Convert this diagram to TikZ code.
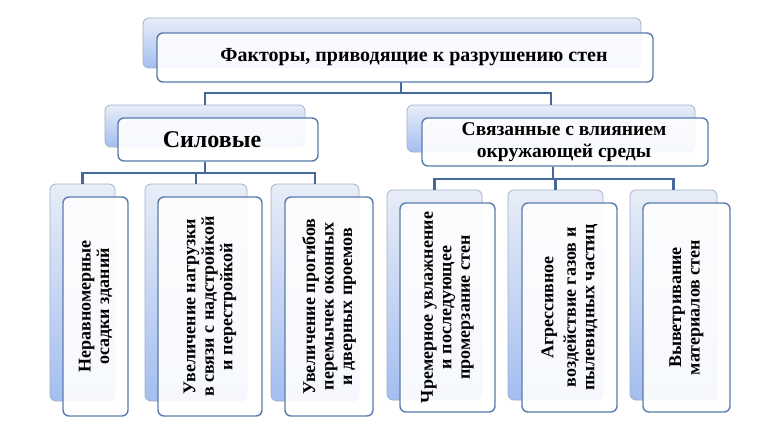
\documentclass[tikz,border=0pt]{standalone}
\usepackage{fontspec}
\setmainfont{Liberation Serif}
\usetikzlibrary{calc}
\definecolor{conncol}{HTML}{46699C}
\definecolor{frontcol}{HTML}{5A7CAE}
\definecolor{backedge}{HTML}{A3B1C8}
\definecolor{backtop}{HTML}{E8EDF7}
\definecolor{backbot}{HTML}{A4BEF0}
\begin{document}
\begin{tikzpicture}[x=1pt,y=-1pt,
  backbox/.style={draw=backedge, line width=0.8pt, rounded corners=6pt, top color=backtop, bottom color=backbot, inner sep=0pt},
  frontbox/.style={draw=frontcol, line width=1.4pt, rounded corners=6pt, fill=white, fill opacity=0.9, inner sep=0pt},
  conn/.style={draw=conncol, line width=2.4pt},
  lbl/.style={font=\bfseries, align=center, text=black, inner sep=0pt},
  vlbl/.style={lbl, rotate=90, font=\bfseries\fontsize{18}{18.5}\selectfont}
]
\useasboundingbox (0,0) rectangle (768,428);
\fill[white] (0,0) rectangle (768,428);

% connectors
\coordinate (tj) at (401,93);
\draw[conn] (401,82) -- (tj);
\coordinate (sj) at (205,173);
\coordinate (ej) at (553,179);

% top
\node[backbox, minimum width=498pt, minimum height=50pt] (tb) at (392,43) {};
\node[frontbox, minimum width=496pt, minimum height=49pt] (tf) at (405,57.5) {};
\node[lbl, font=\bfseries\fontsize{20}{23}\selectfont] (tt) at (414,57) {Факторы, приводящие к разрушению стен};

% level 2
\node[backbox, minimum width=200pt, minimum height=42pt] (sb) at (205,126) {};
\node[backbox, minimum width=288pt, minimum height=47pt] (eb) at (551,128.5) {};
\draw[conn] (sb.north) |- (tj) -| (eb.north);
\node[frontbox, minimum width=200pt, minimum height=43pt] (sf) at (218,139.5) {};
\node[lbl, font=\bfseries\fontsize{24}{27}\selectfont] (st) at (212,140) {Силовые};
\node[frontbox, minimum width=286pt, minimum height=48pt] (ef) at (565,142) {};
\node[lbl, font=\bfseries\fontsize{19.5}{22}\selectfont] (et) at (564,142) {Связанные с влиянием\\окружающей среды};

% level 3 back boxes
\node[backbox, minimum width=65pt, minimum height=217pt] (c1b) at (82.5,292.5) {};
\node[backbox, minimum width=102pt, minimum height=217pt] (c2b) at (196,292.5) {};
\node[backbox, minimum width=88pt, minimum height=217pt] (c3b) at (315,292.5) {};
\node[backbox, minimum width=95pt, minimum height=210pt] (c4b) at (434.5,295) {};
\node[backbox, minimum width=95pt, minimum height=210pt] (c5b) at (555.5,295) {};
\node[backbox, minimum width=87pt, minimum height=210pt] (c6b) at (673.5,295) {};

\draw[conn] (sf.south -| sj) -- (sj);
\draw[conn] (c1b.north) |- (sj) -| (c3b.north);
\draw[conn] (sj) -| (c2b.north);
\draw[conn] (ef.south -| ej) -- (ej);
\draw[conn] (c4b.north) |- (ej) -| (c6b.north);
\draw[conn] (ej) -| (c5b.north);

% level 3 front boxes
\node[frontbox, minimum width=65pt, minimum height=219pt] (c1f) at (95.5,306.5) {};
\node[frontbox, minimum width=104pt, minimum height=219pt] (c2f) at (210,306.5) {};
\node[frontbox, minimum width=88pt, minimum height=219pt] (c3f) at (329,306.5) {};
\node[frontbox, minimum width=95pt, minimum height=209pt] (c4f) at (447.5,307.5) {};
\node[frontbox, minimum width=95pt, minimum height=209pt] (c5f) at (569.5,307.5) {};
\node[frontbox, minimum width=87pt, minimum height=209pt] (c6f) at (686.5,307.5) {};

\node[vlbl] (c1t) at (c1f.center) {Неравномерные\\осадки зданий};
\node[vlbl] (c2t) at (c2f.center) {Увеличение нагрузки\\в связи с надстройкой\\и перестройкой};
\node[vlbl] (c3t) at (c3f.center) {Увеличение прогибов\\перемычек оконных\\и дверных проемов};
\node[vlbl] (c4t) at (c4f.center) {Чремерное увлажнение\\и последующее\\промерзание стен};
\node[vlbl] (c5t) at (c5f.center) {Агрессивное\\[4pt]воздействие газов и\\пылевидных частиц};
\node[vlbl] (c6t) at (c6f.center) {Выветривание\\материалов стен};
\end{tikzpicture}
\end{document}
